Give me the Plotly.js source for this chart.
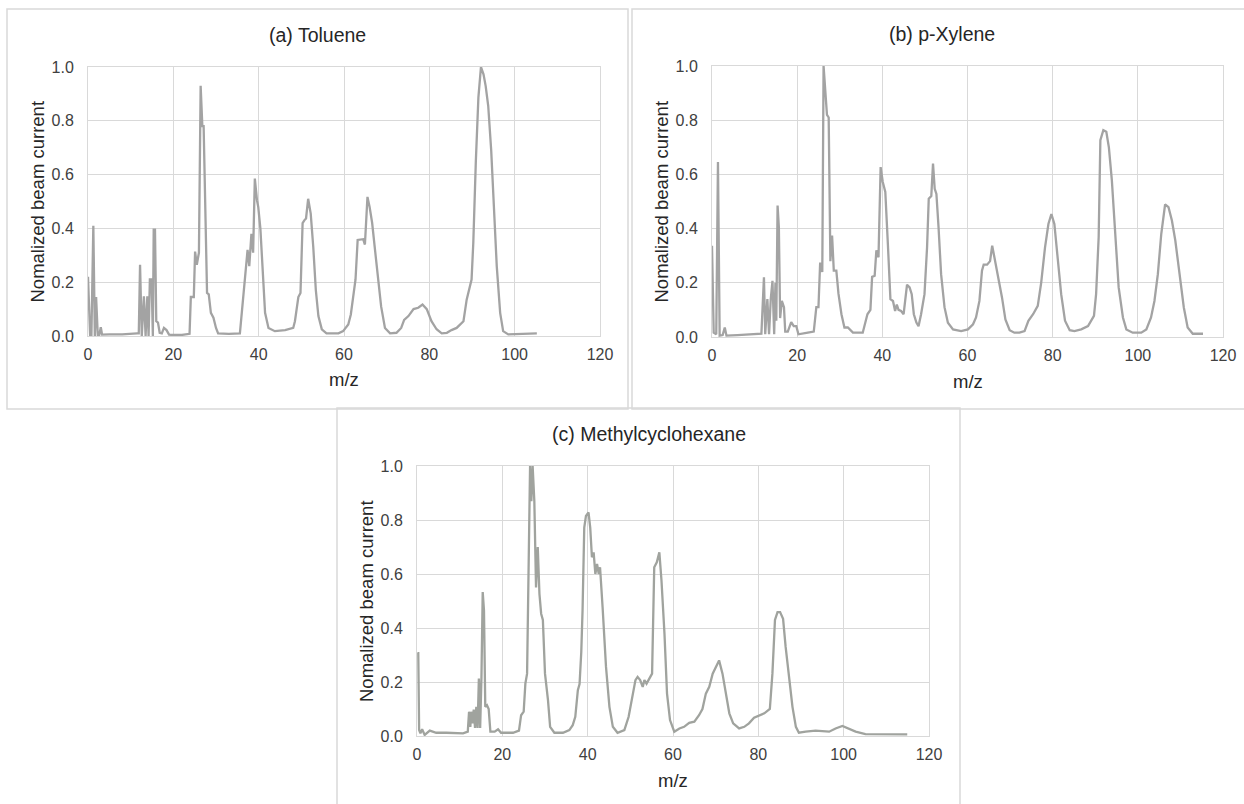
<!DOCTYPE html>
<html>
<head>
<meta charset="utf-8">
<script src="https://cdn.plot.ly/plotly-3.0.1.min.js"></script>
<style>html,body{margin:0;padding:0;background:#fff}#chart{width:1244px;height:804px}</style>
</head>
<body>
<div id="chart"></div>
<script>
// ---- Data ----
const panelTitles = ["(a) Toluene", "(b) p-Xylene", "(c) Methylcyclohexane"];
const xAxisTitle = "m/z";
const yAxisTitle = "Nomalized beam current";
const xTickVals = [0, 20, 40, 60, 80, 100, 120];
const yTickVals = [0, 0.2, 0.4, 0.6, 0.8, 1.0];
const yTickText = ["0.0", "0.2", "0.4", "0.6", "0.8", "1.0"];

const tolueneMz = [0,0.5,0.8,1.25,1.6,1.9,2.3,2.6,3.0,3.3,5,8,11.5,11.9,12.2,12.6,13.1,13.5,13.9,14.2,14.5,14.9,15.2,15.4,15.7,16.0,16.4,16.8,17.3,17.8,18.4,19.0,19.6,22,23.8,24.1,24.8,25.1,25.5,26.0,26.4,26.8,27.1,27.6,27.9,28.3,28.8,29.4,30.0,30.5,33,35.6,36.0,36.4,37.4,37.8,38.3,38.7,39.1,39.6,39.9,40.4,41.0,41.5,42.3,43.8,46.2,48.1,48.5,49.3,49.8,50.3,50.7,51.1,51.6,52.2,52.8,53.4,54.0,54.8,55.9,58.7,59.8,61.0,61.6,62.2,62.7,63.2,64.0,64.5,64.9,65.5,66.0,66.6,67.2,68.0,68.7,69.6,70.8,72.3,73.4,74.1,75.1,76.3,77.4,78.4,79.4,80.5,81.7,82.9,84.1,85.2,86.4,88.0,88.75,89.9,90.3,90.9,91.5,92.1,92.7,93.2,93.8,94.5,95.0,95.8,96.6,97.3,98.5,102,105.2];
const tolueneI = [0.22,0.0,0.0,0.41,0.0,0.145,0.0,0.0,0.033,0.005,0.006,0.006,0.01,0.01,0.265,0.0,0.148,0.0,0.148,0.0,0.21,0.21,0.0,0.395,0.395,0.055,0.05,0.012,0.01,0.03,0.022,0.005,0.004,0.004,0.008,0.145,0.145,0.314,0.265,0.31,0.93,0.78,0.78,0.41,0.16,0.155,0.086,0.068,0.03,0.01,0.008,0.01,0.086,0.145,0.32,0.26,0.38,0.31,0.585,0.505,0.48,0.4,0.234,0.086,0.03,0.018,0.022,0.03,0.055,0.145,0.16,0.42,0.43,0.437,0.51,0.455,0.33,0.17,0.074,0.025,0.01,0.01,0.018,0.043,0.08,0.16,0.21,0.357,0.36,0.36,0.34,0.517,0.48,0.42,0.33,0.22,0.11,0.03,0.01,0.012,0.03,0.06,0.074,0.1,0.105,0.117,0.1,0.055,0.025,0.01,0.012,0.022,0.03,0.055,0.135,0.21,0.345,0.65,0.887,1.0,0.973,0.93,0.856,0.69,0.505,0.26,0.086,0.018,0.006,0.007,0.01];

const xyleneMz = [0,0.4,1.0,1.4,1.8,2.5,3.0,3.4,6,11.6,12.2,12.5,13.0,13.4,13.8,14.2,14.6,14.9,15.1,15.4,15.7,16.0,16.4,16.9,17.2,17.8,18.6,19.2,19.8,20.3,22.5,23.9,24.5,25.0,25.4,25.9,26.2,26.6,27.0,27.4,27.8,28.2,28.6,29.2,29.7,30.4,31.1,31.9,33.1,35.4,36.5,37.2,37.6,38.2,38.6,39.1,39.6,40.1,40.7,41.3,41.9,42.5,43.0,43.4,43.8,44.4,45.0,45.8,46.4,46.9,47.4,48.0,48.5,49.1,49.9,50.5,50.9,51.5,51.9,52.3,52.7,53.2,53.8,54.6,55.4,56.6,58.5,60.1,61.3,62.0,62.8,63.4,63.8,64.6,65.3,65.8,66.5,67.3,68.1,68.9,69.9,71.0,72.2,73.4,74.3,75.4,76.5,77.3,78.2,79.0,79.7,80.4,81.2,82.0,82.9,84.0,85.1,86.7,88.3,89.7,90.2,90.8,91.2,91.9,92.6,93.2,93.9,94.7,95.5,96.5,97.3,98.8,100.8,102.0,103.1,103.9,104.7,105.5,106.4,107.2,108.0,108.8,109.8,110.8,111.7,112.9,115.3];
const xyleneI = [0.337,0.016,0.01,0.646,0.005,0.007,0.035,0.005,0.007,0.012,0.22,0.01,0.14,0.01,0.14,0.207,0.01,0.2,0.06,0.485,0.405,0.07,0.133,0.11,0.02,0.02,0.055,0.04,0.04,0.01,0.016,0.02,0.11,0.11,0.275,0.24,1.0,0.9,0.82,0.81,0.28,0.374,0.245,0.245,0.16,0.084,0.035,0.035,0.016,0.016,0.084,0.1,0.222,0.226,0.32,0.294,0.627,0.572,0.535,0.343,0.14,0.133,0.096,0.12,0.1,0.096,0.084,0.193,0.183,0.158,0.084,0.053,0.04,0.084,0.158,0.33,0.51,0.52,0.64,0.547,0.528,0.405,0.232,0.11,0.053,0.028,0.022,0.028,0.047,0.072,0.133,0.245,0.267,0.267,0.28,0.337,0.28,0.214,0.146,0.065,0.025,0.016,0.016,0.022,0.06,0.084,0.115,0.2,0.33,0.417,0.454,0.417,0.28,0.158,0.06,0.025,0.022,0.028,0.04,0.078,0.158,0.368,0.726,0.763,0.757,0.7,0.578,0.38,0.183,0.072,0.028,0.016,0.016,0.028,0.072,0.133,0.232,0.38,0.489,0.479,0.43,0.356,0.232,0.109,0.035,0.012,0.012];

const mchMz = [0.1,0.3,0.5,0.8,1.2,1.8,3.0,4.5,6.9,10.8,11.9,12.2,12.5,12.7,13.0,13.3,13.6,13.9,14.2,14.5,14.8,15.1,15.4,15.7,16.0,16.4,16.8,17.2,18.2,19.0,19.7,22.5,23.9,24.4,25.0,25.4,25.8,26.1,26.5,26.8,27.1,27.5,27.9,28.3,28.7,29.1,29.5,30.0,30.7,31.2,32.2,34.2,35.7,36.5,37.1,37.7,38.1,38.5,38.8,39.2,39.6,40.2,40.6,41.0,41.4,41.8,42.2,42.6,42.9,43.5,44.3,45.1,45.9,47.0,48.6,49.6,50.5,51.2,51.7,52.3,52.9,53.3,53.8,54.4,55.1,55.6,56.2,56.8,57.3,58.0,58.6,59.3,60.3,61.5,62.6,63.8,65.0,66.1,66.9,67.7,68.5,69.3,70.0,70.8,71.6,72.4,73.2,74.1,75.5,76.7,77.8,79.0,80.2,81.4,82.7,83.3,83.9,84.5,85.1,85.8,86.4,87.2,88.0,88.8,89.5,91.1,93.4,96.6,98.1,99.7,101.2,102.8,105.1,108.3,114.9];
const mchI = [0.307,0.307,0.022,0.01,0.025,0.004,0.02,0.012,0.012,0.01,0.016,0.09,0.034,0.09,0.047,0.098,0.03,0.108,0.03,0.213,0.03,0.213,0.533,0.465,0.108,0.114,0.1,0.016,0.016,0.025,0.012,0.012,0.02,0.077,0.09,0.194,0.231,0.65,1.0,0.87,1.0,0.87,0.55,0.7,0.526,0.453,0.43,0.231,0.133,0.034,0.012,0.012,0.022,0.04,0.071,0.17,0.192,0.311,0.465,0.772,0.815,0.828,0.772,0.662,0.68,0.6,0.637,0.6,0.625,0.477,0.256,0.108,0.034,0.012,0.022,0.071,0.157,0.207,0.219,0.207,0.182,0.207,0.194,0.213,0.231,0.625,0.643,0.68,0.576,0.379,0.157,0.059,0.016,0.028,0.034,0.049,0.053,0.077,0.1,0.157,0.182,0.231,0.256,0.28,0.231,0.157,0.084,0.047,0.028,0.034,0.047,0.068,0.077,0.084,0.1,0.231,0.43,0.459,0.459,0.434,0.33,0.207,0.108,0.034,0.012,0.016,0.02,0.016,0.028,0.037,0.028,0.016,0.007,0.006,0.006];

// ---- Layout geometry (pixels) ----
const W = 1244, H = 804;
const FONT = "Liberation Sans, Arial, sans-serif";
const px = v => v / W;
const py = v => 1 - v / H;

const panels = [
  {x: tolueneMz, y: tolueneI, color: "#a3a3a3", plot: [88, 600, 67, 336], box: [7, 9, 628, 409]},
  {x: xyleneMz, y: xyleneI, color: "#a3a3a3", plot: [712, 1223, 66, 337], box: [632, 9, 1252, 409]},
  {x: mchMz, y: mchI, color: "#a0a39e", plot: [417, 929, 466, 736], box: [337, 408, 960, 812]}
];

const traces = [];
const layout = {
  width: W, height: H,
  margin: {l: 0, r: 0, t: 0, b: 0},
  paper_bgcolor: "#ffffff",
  plot_bgcolor: "#ffffff",
  showlegend: false,
  font: {family: FONT, color: "#404040", size: 16},
  shapes: [],
  annotations: []
};

panels.forEach((p, i) => {
  const n = i === 0 ? "" : String(i + 1);
  traces.push({
    x: p.x, y: p.y, type: "scatter", mode: "lines",
    line: {color: p.color, width: 2.3},
    xaxis: "x" + n, yaxis: "y" + n, hoverinfo: "x+y"
  });
  const [l, r, t, b] = p.plot;
  layout["xaxis" + n] = {
    domain: [px(l), px(r)], anchor: "y" + n, range: [0, 120],
    tickvals: xTickVals, ticks: "outside", ticklen: 4, tickcolor: "rgba(0,0,0,0)",
    showgrid: true, gridcolor: "#d9d9d9", gridwidth: 1,
    showline: true, linecolor: "#d9d9d9", linewidth: 1, mirror: true,
    zeroline: false, tickfont: {family: FONT, size: 16, color: "#404040"}, fixedrange: true
  };
  layout["yaxis" + n] = {
    domain: [py(b), py(t)], anchor: "x" + n, range: [0, 1],
    tickvals: yTickVals, ticktext: yTickText, ticks: "outside", ticklen: 10, tickcolor: "rgba(0,0,0,0)",
    showgrid: true, gridcolor: "#d9d9d9", gridwidth: 1,
    showline: true, linecolor: "#d9d9d9", linewidth: 1, mirror: true,
    zeroline: false, tickfont: {family: FONT, size: 16, color: "#404040"}, fixedrange: true
  };
  const [bx0, by0, bx1, by1] = p.box;
  layout.shapes.push({
    type: "rect", xref: "paper", yref: "paper",
    x0: px(bx0), x1: px(bx1), y0: py(by1), y1: py(by0),
    line: {color: "#d9d9d9", width: 1.5}, fillcolor: "rgba(0,0,0,0)", layer: "below"
  });
  // panel title (centred on the panel box)
  layout.annotations.push({
    text: panelTitles[i], xref: "paper", yref: "paper",
    x: px((bx0 + bx1) / 2), y: py(t - 32), xanchor: "center", yanchor: "middle",
    showarrow: false, font: {family: FONT, size: 19.5, color: "#262626"}
  });
  // x axis title
  layout.annotations.push({
    text: xAxisTitle, xref: "paper", yref: "paper",
    x: px((l + r) / 2), y: py(b + 44), xanchor: "center", yanchor: "middle",
    showarrow: false, font: {family: FONT, size: 18.5, color: "#262626"}
  });
  // y axis title
  layout.annotations.push({
    text: yAxisTitle, xref: "paper", yref: "paper",
    x: px(l - 51), y: py((t + b) / 2), xanchor: "center", yanchor: "middle", textangle: -90,
    showarrow: false, font: {family: FONT, size: 18.5, color: "#262626"}
  });
});

Plotly.newPlot("chart", traces, layout, {staticPlot: true, displayModeBar: false});
</script>
</body>
</html>
